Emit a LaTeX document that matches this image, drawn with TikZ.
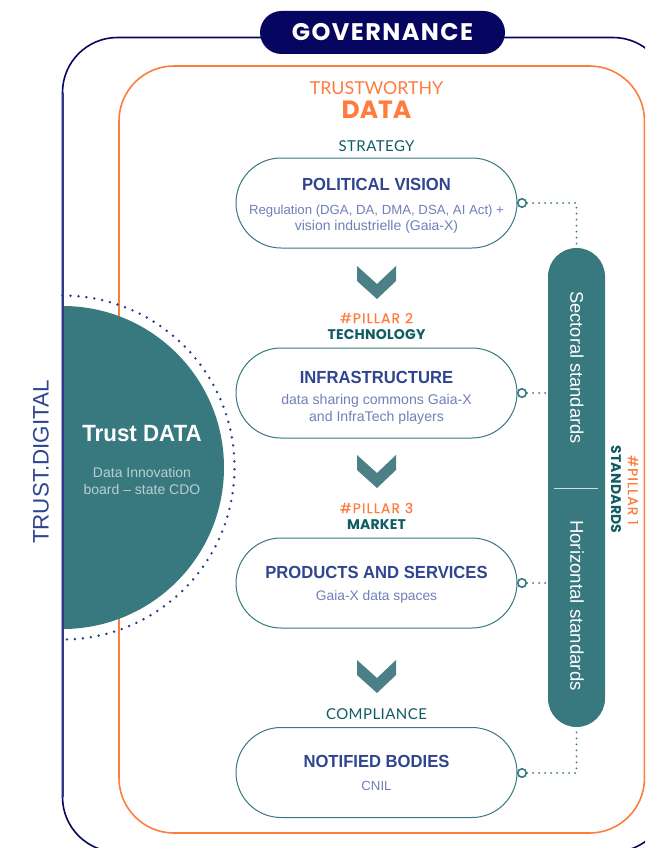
\documentclass[tikz,border=0pt]{standalone}
\usepackage{fontspec}
\usetikzlibrary{shapes.misc}
\setmainfont{Liberation Sans}
\newfontfamily\tfont[FakeStretch=0.95]{Liberation Sans}
\newfontfamily\geo{Poppins}
\newfontfamily\geow[LetterSpace=6]{Poppins}
\newfontfamily\geov[LetterSpace=8,FakeBold=0.4]{Poppins}
\newfontfamily\geos[LetterSpace=1.5]{Poppins}
\newfontfamily\lat{Lato}
\newfontfamily\lats[LetterSpace=3]{Lato}
\definecolor{navy}{HTML}{06055F}
\definecolor{orng}{HTML}{FF7C3F}
\definecolor{tealf}{HTML}{38787F}
\definecolor{chev}{HTML}{4A8086}
\definecolor{teald}{HTML}{0F5C63}
\definecolor{titleb}{HTML}{2F4590}
\definecolor{subb}{HTML}{7080B8}
\definecolor{dotn}{HTML}{2B3A8C}
\newcommand{\fs}[1]{\fontsize{#1}{#1}\selectfont}
\tikzset{
  x=1pt,y=-1pt,
  pill/.style={rounded rectangle,draw=tealf,line width=1pt,fill=white,minimum width=281pt,minimum height=90pt,inner sep=0pt},
  ttl/.style={text=titleb,font=\tfont\fs{17.5}\bfseries,inner sep=0pt},
  sub/.style={text=subb,font=\fs{13.2},align=center,inner sep=0pt},
  ring/.style={circle,draw=tealf,line width=1.6pt,fill=white,minimum size=8.5pt,inner sep=0pt},
  dots/.style={draw=tealf,line width=2pt,line cap=round,dash pattern=on 0pt off 6pt},
  chevron/.style={fill=chev},
  hdr/.style={text=teald,font=\lats\fs{15},inner sep=0pt},
  hdrb/.style={text=teald,font=\geos\fs{14}\bfseries,inner sep=0pt},
  pil/.style={text=orng,font=\geov\fs{14},inner sep=0pt},
  sidet/.style={text=white,inner sep=0pt,rotate=-90}
}
\begin{document}
\begin{tikzpicture}
\useasboundingbox (0,0) rectangle (645,848);
\clip (0,0) rectangle (645,848);
\fill[white] (0,0) rectangle (645,848);
\draw[navy,line width=1.6pt,rounded corners=55pt] (62.5,37.5) rectangle (668,852);
\draw[orng,line width=1.6pt,rounded corners=55pt] (119,66) rectangle (644.5,833);
\node[rounded rectangle,fill=navy,text=white,font=\geow\fs{24}\bfseries,minimum width=245pt,minimum height=43pt,inner sep=0pt] (gov) at (382.5,32.5) {GOVERNANCE};
\node[text=orng,font=\lat\fs{17.8},inner sep=0pt] (tw) at (376.5,88) {TRUSTWORTHY};
\node[text=orng,font=\geo\fs{25}\bfseries,inner sep=0pt] (data) at (376.5,110) {DATA};
% half circle
\fill[tealf] (62.5,306) arc[start angle=-90,end angle=90,radius=161.5] -- cycle;
\draw[dotn,line width=2.7pt,line cap=round,dash pattern=on 0pt off 8pt] (62.5,295.5) arc[start angle=-90,end angle=90,radius=172];
\draw[dotn,line width=2pt] (62.5,93) -- (62.5,797);
\node[text=white,font=\tfont\fs{23.5}\bfseries,inner sep=0pt] (td) at (142,434) {Trust DATA};
\node[text=white!65!tealf,font=\fs{14},align=center,inner sep=0pt] (tdsub) at (142,481) {Data Innovation\\[3pt]board -- state CDO};
\node[text=titleb,font=\fs{22.4},rotate=90,inner sep=0pt] (tdig) at (41,462) {TRUST.DIGITAL};
% pills
\node[hdr] (l1) at (376.5,146.5) {STRATEGY};
\node[pill] (p1) at (376.5,203) {};
\node[ttl] (t1) at (376.5,184.5) {POLITICAL VISION};
\node[sub] (s1) at (376.5,219) {Regulation (DGA, DA, DMA, DSA, AI Act) +\\[3pt]{\fs{14}vision industrielle (Gaia-X)}};
\node[pil] (h2) at (376.5,318) {\#PILLAR 2};
\node[hdrb] (l2) at (376.5,335) {TECHNOLOGY};
\node[pill] (p2) at (376.5,393) {};
\node[ttl] (t2) at (376.5,377.5) {INFRASTRUCTURE};
\node[sub,font=\fs{14.1}] (s2) at (376.5,409) {data sharing commons Gaia-X\\[3pt]and InfraTech players};
\node[pil] (h3) at (376.5,508) {\#PILLAR 3};
\node[hdrb] (l3) at (376.5,525) {MARKET};
\node[pill] (p3) at (376.5,583) {};
\node[ttl] (t3) at (376.5,572.5) {PRODUCTS AND SERVICES};
\node[sub,font=\fs{13.8}] (s3) at (376.5,597) {Gaia-X data spaces};
\node[hdr] (l4) at (376.5,714) {COMPLIANCE};
\node[pill] (p4) at (376.5,772.5) {};
\node[ttl] (t4) at (376.5,761.5) {NOTIFIED BODIES};
\node[sub] (s4) at (376.5,786) {CNIL};
% chevrons
\fill[chevron] (357,266) -- (377,284) -- (396,266) -- (396,281) -- (377,299) -- (357,281) -- cycle;
\fill[chevron] (357,455) -- (377,473) -- (396,455) -- (396,470) -- (377,488) -- (357,470) -- cycle;
\fill[chevron] (357,660) -- (377,678) -- (396,660) -- (396,675) -- (377,693) -- (357,675) -- cycle;
% side bar
\node[rectangle,fill=tealf,rounded corners=28.5pt,minimum width=57pt,minimum height=479pt,inner sep=0pt] (side) at (576.5,487.5) {};
\node[sidet,font=\fs{18.3}] (st) at (577,367.5) {Sectoral standards};
\node[sidet,font=\fs{18.6}] (ht) at (577,605.5) {Horizontal standards};
\coordinate (da) at (554,488);
\coordinate (db) at (598,488);
\draw[white!75!tealf,line width=1pt] (da) -- (db);
\node[ring] (r1) at (522,203) {};
\node[ring] (r2) at (522,393) {};
\node[ring] (r3) at (522,583) {};
\node[ring] (r4) at (522,773) {};
\draw[dots] (r1.east) -| (side.north);
\draw[dots] (r2.east) -- (r2.east -| side.west);
\draw[dots] (r3.east) -- (r3.east -| side.west);
\draw[dots] (r4.east) -| (side.south);
\node[pil,rotate=-90] (pi1) at (633,490) {\#PILLAR 1};
\node[hdrb,rotate=-90] (stan) at (616,489.5) {STANDARDS};
\end{tikzpicture}
\end{document}
